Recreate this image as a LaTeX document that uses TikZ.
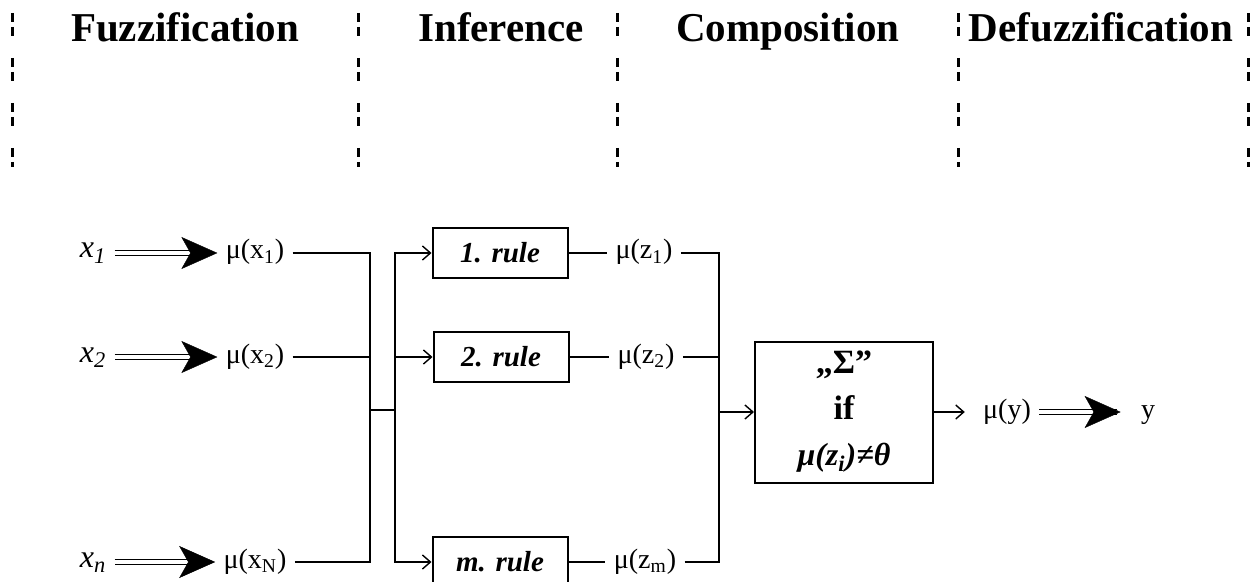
\documentclass[tikz,border=0pt]{standalone}
\usepackage{fontspec}
\setmainfont{Liberation Serif}
\usepackage{tikz}
\usetikzlibrary{arrows.meta}
\tikzset{
  head/.style={font=\fontsize{20.5}{24}\selectfont\bfseries, inner sep=0pt},
  sepline/.style={line width=1.5pt, dash pattern=on 4.5pt off 2.5pt on 4.5pt off 11pt},
  inp/.style={font=\fontsize{16}{20}\selectfont\itshape, inner sep=4pt, text height=8pt, text depth=3pt},
  lbl/.style={font=\fontsize{14}{16}\selectfont, inner sep=4pt, text height=9pt, text depth=3pt},
  rulebox/.style={draw=black, line width=1pt, minimum width=67.5pt, minimum height=25pt, inner sep=2pt, font=\fontsize{14.5}{18}\selectfont\bfseries\itshape},
  compbox/.style={draw=black, line width=1pt, minimum width=89pt, minimum height=70.5pt, align=center, font=\fontsize{17}{23}\selectfont\bfseries},
  wire/.style={line width=1pt},
  arrow/.style={-{Straight Barb[length=4pt,width=7pt,line width=0.7pt]}, line width=1pt},
  dbl/.style={double, double distance=2pt, line width=0.6pt, shorten >=8pt},
  fattip/.style={white, line width=0.2pt, -{Stealth[color=black,length=18pt,width=16pt,inset=4.5pt]}}
}

\begin{document}
\begin{tikzpicture}[x=0.5pt,y=-0.5pt]
\useasboundingbox (0,0) rectangle (1256,582);
% stages
\draw[sepline] (12,13) -- (12,167);
\draw[sepline] (358,13) -- (358,167);
\draw[sepline] (617,13) -- (617,167);
\draw[sepline] (958,13) -- (958,167);
\draw[sepline] (1248,13) -- (1248,167);
\node[head, anchor=base] (h1) at (185,42) {Fuzzification};
\node[head, anchor=base] (h2) at (501,42) {Inference};
\node[head, anchor=base] (h3) at (788,42) {Composition};
\node[head, anchor=base] (h4) at (1101,42) {Defuzzification};

% fuzzification
\node[inp] (x1) at (93,253) {x\textsubscript{1}};
\node[inp] (x2) at (93,357) {x\textsubscript{2}};
\node[inp] (xn) at (93,562) {x\textsubscript{n}};
\node[lbl] (mx1) at (255,253) {μ(x\textsubscript{1})};
\node[lbl] (mx2) at (255,357) {μ(x\textsubscript{2})};
\node[lbl] (mxn) at (255,562) {μ(x\textsubscript{N})};
\draw[dbl] (x1) -- (mx1); \draw[fattip] (x1) -- (mx1);
\draw[dbl] (x2) -- (mx2); \draw[fattip] (x2) -- (mx2);
\draw[dbl] (xn) -- (mxn); \draw[fattip] (xn) -- (mxn);

% inference
\coordinate (jl) at (370,410);
\coordinate (jr) at (395,410);
\node[rulebox] (r1) at (500,253) {1. rule};
\node[rulebox] (r2) at (501,357) {2. rule};
\node[rulebox] (rm) at (500,562) {m. rule};
\draw[wire] (mx1.east) -| (jl);
\draw[wire] (mx2.east) -| (jl);
\draw[wire] (mxn.east) -| (jl);
\draw[wire] (jl) -- (jr);
\draw[arrow] (jr) |- (r1.west);
\draw[arrow] (jr) |- (r2.west);
\draw[arrow] (jr) |- (rm.west);

% composition
\node[lbl] (mz1) at (644,253) {μ(z\textsubscript{1})};
\node[lbl] (mz2) at (646,357) {μ(z\textsubscript{2})};
\node[lbl] (mzm) at (645,562) {μ(z\textsubscript{m})};
\draw[wire] (r1) -- (mz1);
\draw[wire] (r2) -- (mz2);
\draw[wire] (rm) -- (mzm);
\coordinate (jc) at (719,412);
\node[compbox] (comp) at (844,412) {„Σ”\\if\\{\fontsize{16}{23}\selectfont\itshape μ(z\textsubscript{i})≠θ}};
\draw[wire] (mz1.east) -| (jc);
\draw[wire] (mz2.east) -| (jc);
\draw[wire] (mzm.east) -| (jc);
\draw[arrow] (jc) -- (comp.west);

% defuzzification
\node[lbl] (my) at (1007,412) {μ(y)};
\node[lbl] (yout) at (1148,412) {y};
\draw[arrow, shorten >=5pt] (comp.east) -- (my.west);
\draw[dbl] (my) -- (yout); \draw[fattip, shorten >=6pt] (my) -- (yout);
\end{tikzpicture}
\end{document}
